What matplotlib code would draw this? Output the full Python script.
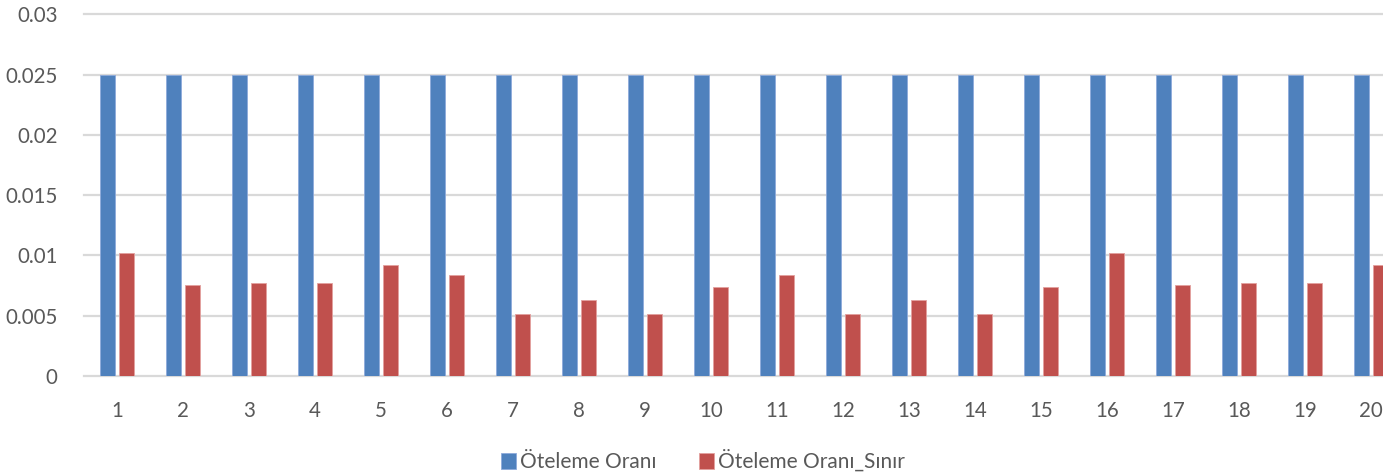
import matplotlib
matplotlib.use("Agg")
import matplotlib.pyplot as plt
import numpy as np

categories = [str(i) for i in range(1, 21)]
oteleme_orani = [0.025] * 20
oteleme_orani_sinir = [0.0102, 0.00753, 0.00772, 0.0077, 0.00922,
                       0.00837, 0.00514, 0.00633, 0.00514, 0.00739,
                       0.00837, 0.00514, 0.00633, 0.00514, 0.00739,
                       0.0102, 0.00753, 0.00772, 0.0077, 0.00922]
y_ticks = [0, 0.005, 0.01, 0.015, 0.02, 0.025, 0.03]
y_tick_labels = ["0", "0.005", "0.01", "0.015", "0.02", "0.025", "0.03"]

BLUE = "#4F81BD"
RED = "#C0504D"
GRID = "#D9D9D9"
TEXT = "#595959"

plt.rcParams["font.family"] = ["Lato", "DejaVu Sans"]

W, H = 1383, 474
fig = plt.figure(figsize=(W / 100, H / 100), dpi=100)
# plot area extends past the right edge of the canvas
left_px, right_px = 84, 1404
bottom_px, top_px = 98, 459.7
ax = fig.add_axes([left_px / W, bottom_px / H,
                   (right_px - left_px) / W, (top_px - bottom_px) / H])

x = np.arange(len(categories))
width = 0.223
off = 0.141
b1 = ax.bar(x - off, oteleme_orani, width, color=BLUE, edgecolor="#8EAADB",
            linewidth=0.6, label="Öteleme Oranı", zorder=3)
b2 = ax.bar(x + off, oteleme_orani_sinir, width, color=RED, edgecolor="#E3A09E",
            linewidth=0.6, label="Öteleme Oranı_Sınır", zorder=3)

ax.set_xlim(-0.5, len(categories) - 0.5)
ax.set_ylim(0, 0.03)
ax.set_yticks(y_ticks)
ax.set_yticklabels(y_tick_labels)
ax.set_xticks(x)
ax.set_xticklabels(categories)
ax.yaxis.grid(True, color=GRID, linewidth=1.6, zorder=0)
ax.set_axisbelow(True)
for s in ax.spines.values():
    s.set_visible(False)
ax.tick_params(axis="both", length=0, labelsize=14.8, colors=TEXT)
ax.tick_params(axis="y", pad=19)
ax.tick_params(axis="x", pad=18)
for gl in ax.get_ygridlines():
    gl.set_clip_on(False)

fig.legend(handles=[b1, b2], loc="center", bbox_to_anchor=(703 / W, 1 - 461 / H),
           ncol=2, frameon=False, fontsize=15, labelcolor=TEXT,
           handlelength=0.75, handleheight=0.75, handletextpad=0.2,
           columnspacing=2.0)

fig.savefig("out.png", dpi=100)
